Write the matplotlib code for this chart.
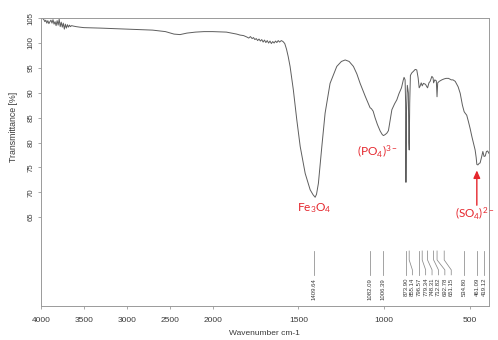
import numpy as np
import matplotlib
matplotlib.use("Agg")
import matplotlib.pyplot as plt

# ---- FTIR spectrum (wavenumber in cm-1, transmittance in %) ----
wavenumber = [
    4000, 3990, 3978, 3966, 3955, 3944, 3932, 3920, 3908, 3896, 3884, 3872,
    3860, 3848, 3836, 3824, 3812, 3800, 3788, 3776, 3764, 3752, 3740, 3728,
    3716, 3704, 3692, 3680, 3668, 3656, 3644, 3620, 3590, 3550,
    3500, 3300, 3000, 2700, 2550, 2450, 2380, 2300, 2200, 2100, 2000, 1920,
    1860, 1840, 1820, 1800, 1790, 1780, 1770, 1762, 1754, 1746, 1738, 1730,
    1722, 1714, 1706, 1698, 1690, 1682, 1674, 1666, 1658, 1650, 1642, 1634,
    1626, 1618, 1610, 1600, 1590, 1580, 1570, 1560, 1549, 1530, 1510, 1490,
    1461, 1432, 1415, 1403, 1395, 1384, 1364, 1345, 1316, 1277, 1250, 1228,
    1205, 1180, 1160, 1141, 1110, 1090, 1083, 1075, 1065, 1054, 1040, 1024,
    1012, 1005, 995, 985, 976, 966, 956, 940, 927, 915, 900, 890, 885, 879,
    876, 874, 871, 866, 860, 857, 855, 852, 848, 840, 831, 820, 811, 803,
    797, 792, 785, 779, 772, 760, 752, 748, 740, 733, 723, 716, 713, 706,
    697, 693, 689, 680, 665, 651, 640, 626, 610, 600, 587, 570, 558, 545,
    535, 529, 520, 510, 500, 490, 480, 471, 465, 461, 455, 448, 442, 434,
    426, 419, 412, 405, 398, 390,
]
transmittance = [
    105.4, 105.2, 104.9, 104.7, 104.3, 104.6, 104.0, 104.5, 103.9, 104.3, 104.6, 104.0,
    104.7, 103.8, 104.3, 103.5, 104.5, 103.6, 104.8, 103.3, 104.2, 103.2, 104.0, 102.8,
    103.8, 103.0, 103.7, 103.2, 103.6, 103.3, 103.5, 103.4, 103.3, 103.2,
    103.1, 103.0, 102.8, 102.6, 102.3, 101.8, 101.7, 102.0, 102.2, 102.3, 102.3, 102.2,
    101.8, 101.6, 101.5, 101.2, 101.0, 101.3, 100.9, 101.1, 100.7, 100.9, 100.5, 100.8,
    100.4, 100.7, 100.2, 100.6, 100.1, 100.5, 100.0, 100.4, 99.9, 100.3, 100.0, 100.4,
    100.1, 100.5, 100.2, 100.5, 100.3, 99.9, 98.8, 97.3, 95.3, 90.6, 84.6, 79.2,
    73.8, 70.5, 69.5, 69.0, 69.6, 71.8, 79.2, 85.9, 91.9, 95.3, 96.3, 96.6,
    96.3, 95.3, 93.8, 91.9, 89.2, 87.6, 87.0, 86.8, 86.3, 85.0, 83.6, 82.3,
    81.6, 81.4, 81.6, 81.9, 82.4, 84.5, 86.6, 87.8, 88.6, 89.8, 91.0, 92.5, 93.1, 92.6,
    88.0, 72.0, 86.0, 91.5, 90.0, 80.0, 78.5, 88.0, 93.5, 94.0, 94.3, 94.7, 94.6, 93.0,
    91.0, 91.3, 92.0, 91.4, 91.9, 91.7, 91.2, 91.0, 92.0, 92.3, 93.3, 93.0, 92.0, 92.6,
    92.4, 89.2, 92.0, 92.3, 92.6, 92.8, 92.9, 92.9, 92.6, 92.6, 92.3, 91.2, 89.9, 87.5,
    86.2, 85.9, 85.5, 84.2, 82.8, 81.2, 79.8, 78.5, 77.0, 75.6, 75.5, 75.8, 75.9, 77.0,
    78.2, 77.2, 77.3, 78.2, 78.3, 77.8,
]

# picked peak positions and their printed labels
peak_positions = [1409.64, 1082.09, 1006.39, 873.90, 855.14, 796.57, 779.34,
                  748.31, 712.82, 692.78, 651.15, 534.80, 461.09, 419.12]
peak_labels = ["1409.64", "1082.09", "1006.39", "873.90", "855.14", "796.57",
               "779.34", "748.31", "712.82", "692.78", "651.15", "534.80",
               "461.09", "419.12"]

x_ticks = [4000, 3500, 3000, 2500, 2000, 1500, 1000, 500]
y_ticks = [65, 70, 75, 80, 85, 90, 95, 100, 105]

RED = "#e5262d"
GREY_TXT = "#3a3a3a"
GREY_AX = "#9a9a9a"

plt.rcParams["font.family"] = ["Liberation Sans", "DejaVu Sans"]
plt.rcParams["mathtext.fontset"] = "custom"
plt.rcParams["mathtext.rm"] = "Lato"
plt.rcParams["mathtext.it"] = "Lato:italic"
plt.rcParams["mathtext.bf"] = "Lato:bold"


# OPUS style wavenumber axis: region below 2000 cm-1 drawn at double scale
def fwd(w):
    w = np.asarray(w, dtype=float)
    return np.where(w >= 2000, w, 2 * w - 2000)


def inv(u):
    u = np.asarray(u, dtype=float)
    return np.where(u >= 2000, u, (u + 2000) / 2)


fig = plt.figure(figsize=(4.98, 3.40), dpi=100)
ax = fig.add_axes([0.0823, 0.1009, 0.8997, 0.8471])
ax.set_xscale("function", functions=(fwd, inv))
ax.set_xlim(4000, 390)
ax.set_ylim(47.2, 105.1)

ax.plot(wavenumber, transmittance, color="#5e5e5e", lw=0.7)

ax.set_xticks(x_ticks)
ax.set_xticklabels([str(t) for t in x_ticks])
ax.set_yticks(y_ticks)
ax.set_yticklabels([str(t) for t in y_ticks])
ax.minorticks_off()
ax.tick_params(axis="both", direction="out", length=2.3, width=0.6,
               color=GREY_AX, labelcolor=GREY_TXT)
ax.tick_params(axis="x", labelsize=6, pad=5.5)
ax.tick_params(axis="y", labelsize=5.6, pad=2.5, labelrotation=90)
for lbl in ax.get_yticklabels():
    lbl.set_va("center")
for sp in ax.spines.values():
    sp.set_color(GREY_AX)
    sp.set_linewidth(0.7)

# peak marker lines with labels spread out where they crowd
fig.canvas.draw()
to_px = ax.transData
y_top, y_b1, y_b2, y_bot, y_txt = 58.2, 56.4, 54.4, 53.4, 52.8
peak_px = [to_px.transform((p, 60))[0] for p in peak_positions]
gap = 6.4
label_px = []
for px in peak_px:
    if label_px:
        px_l = max(px, label_px[-1] + gap)
    else:
        px_l = px
    label_px.append(px_l)
inv_px = ax.transData.inverted()
label_w = [inv_px.transform((px, 0))[0] for px in label_px]

for p, lw_pos, txt, ppx, lpx in zip(peak_positions, label_w, peak_labels,
                                     peak_px, label_px):
    if abs(lpx - ppx) < 0.5:
        ax.plot([p, p], [y_top, y_bot], color="#8a8a8a", lw=0.55)
    else:
        ax.plot([p, p, lw_pos, lw_pos], [y_top, y_b1, y_b2, y_bot],
                color="#8a8a8a", lw=0.55)
    ax.text(lw_pos, y_txt, txt, rotation=90, ha="center", va="top",
            fontsize=4.3, color=GREY_TXT)

# band assignments
ax.text(1409.64, 66.9, r"$\mathrm{Fe_3O_4}$", color=RED, fontsize=8.6,
        ha="center", va="center")
ax.text(1040, 78.2, r"$\mathrm{(PO_4)^{3-}}$", color=RED, fontsize=8.6,
        ha="center", va="center")
ax.text(590, 65.9, r"$\mathrm{(SO_4)^{2-}}$", color=RED, fontsize=8.4,
        ha="left", va="center", clip_on=False)
ax.annotate("", xy=(461.09, 74.4), xytext=(461.09, 67.4),
            arrowprops=dict(arrowstyle="-|>,head_length=0.45,head_width=0.2",
                            color=RED, lw=1.0, shrinkA=0, shrinkB=0))

fig.text(0.027, 0.626, "Transmittance [%]", rotation=90, ha="center",
         va="center", fontsize=6.3, color=GREY_TXT)
fig.text(0.532, 0.018, "Wavenumber cm-1", ha="center", va="center",
         fontsize=6, color=GREY_TXT)

fig.savefig("out.png", dpi=100)
